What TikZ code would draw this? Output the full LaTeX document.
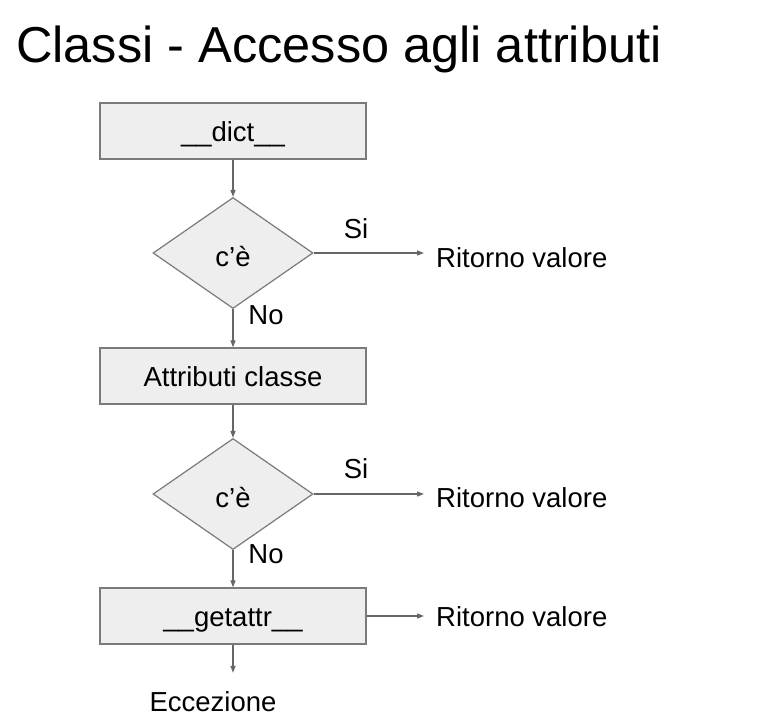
\documentclass[tikz,border=0pt]{standalone}
\usepackage{fontspec}
\setmainfont{Liberation Sans}
\usetikzlibrary{shapes.geometric,arrows.meta}

\definecolor{boxfill}{HTML}{EEEEEE}
\definecolor{boxgray}{HTML}{7A7A7A}
\definecolor{linegray}{HTML}{666666}

\tikzset{
  box/.style={draw=boxgray, fill=boxfill, line width=1.2pt,
    minimum width=266pt, minimum height=56pt, inner sep=0pt,
    text height=20pt, text depth=0pt, font=\fontsize{27.5}{32}\selectfont},
  test/.style={diamond, draw=boxgray, fill=boxfill, line width=1.2pt,
    minimum width=160pt, minimum height=111pt, inner sep=0pt,
    text height=27pt, text depth=0pt, font=\fontsize{27.5}{32}\selectfont},
  txt/.style={inner sep=0pt, text height=20pt, text depth=0pt,
    font=\fontsize{27.5}{32}\selectfont},
  arr/.style={draw=linegray, line width=1.2pt, -{Triangle[length=7pt,width=5pt]}},
}

\begin{document}
\begin{tikzpicture}[x=1pt,y=-1pt]

  \useasboundingbox[fill=white] (0,0) rectangle (764,728);

  \node [anchor=base west, inner sep=0pt, font=\fontsize{50.5}{60}\selectfont] (title) at (16, 62) {Classi - Accesso agli attributi};

  % blocchi
  \node [box]  (dict)  at (233, 131) {\_\_dict\_\_};
  \node [test] (ce1)   at (233, 253) {c’è};
  \node [box]  (cls)   at (233, 376) {Attributi classe};
  \node [test] (ce2)   at (233, 494) {c’è};
  \node [box]  (get)   at (233, 616) {\_\_getattr\_\_};

  % uscite
  \node [txt, anchor=west] (ret1) at (436, 257) {Ritorno valore};
  \node [txt, anchor=west] (ret2) at (436, 497) {Ritorno valore};
  \node [txt, anchor=west] (ret3) at (436, 616) {Ritorno valore};
  \node [txt] (exc) at (213, 701) {Eccezione};

  \node [txt] (si1) at (356, 228) {Si};
  \node [txt] (si2) at (356, 468) {Si};
  \node [txt] (no1) at (266, 314) {No};
  \node [txt] (no2) at (266, 553) {No};

  % frecce
  \draw [arr] (dict.south) -- (ce1.north);
  \draw [arr] (ce1.south) -- (cls.north);
  \draw [arr] (cls.south) -- (ce2.north);
  \draw [arr] (ce2.south) -- (get.north);
  \draw [arr, shorten >=12pt] (ce1.east) -- (ce1.east -| ret1.west);
  \draw [arr, shorten >=12pt] (ce2.east) -- (ce2.east -| ret2.west);
  \draw [arr, shorten >=12pt] (get.east) -- (get.east -| ret3.west);
  \draw [arr, shorten >=18pt] (get.south) -- (get.south |- exc.north);

\end{tikzpicture}
\end{document}
